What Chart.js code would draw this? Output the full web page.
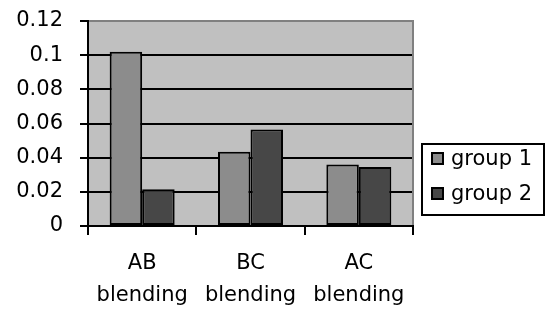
<!DOCTYPE html>
<html>
<head>
<meta charset="utf-8">
<script src="https://cdn.jsdelivr.net/npm/chart.js@4"></script>
<style>
  html, body { margin: 0; padding: 0; background: #ffffff; }
  #wrap { width: 546px; height: 311px; position: relative; }
</style>
</head>
<body>
<div id="wrap"><canvas id="chart" width="546" height="311"></canvas></div>
<script>
// chart data
const categories = [['AB', 'blending'], ['BC', 'blending'], ['AC', 'blending']];
const seriesNames = ['group 1', 'group 2'];
const group1 = [0.102, 0.0435, 0.036];
const group2 = [0.0215, 0.0565, 0.0345];
const yTicks = [0, 0.02, 0.04, 0.06, 0.08, 0.1, 0.12];

const colors = ['#8c8c8c', '#474747'];
const FONT = "'DejaVu Sans', sans-serif";

// grey plot area with the thin grey frame on top and right
const plotBackground = {
    id: 'plotBackground',
    beforeDraw(chart) {
        const { ctx, chartArea: a } = chart;
        ctx.save();
        ctx.fillStyle = '#c0c0c0';
        ctx.fillRect(a.left, a.top, a.right - a.left, a.bottom - a.top);
        ctx.restore();
    },
    afterDatasetsDraw(chart) {
        const { ctx, chartArea: a } = chart;
        ctx.save();
        ctx.strokeStyle = '#808080';
        ctx.lineWidth = 2;
        ctx.beginPath();
        ctx.moveTo(a.left + 1, a.top);
        ctx.lineTo(a.right, a.top);
        ctx.lineTo(a.right, a.bottom - 1);
        ctx.stroke();
        ctx.restore();
    }
};

// boxed legend on the right
const boxLegend = {
    id: 'boxLegend',
    afterDraw(chart) {
        const { ctx } = chart;
        const x = 422, y = 144, w = 122, h = 71;
        ctx.save();
        ctx.fillStyle = '#ffffff';
        ctx.fillRect(x, y, w, h);
        ctx.strokeStyle = '#000000';
        ctx.lineWidth = 2;
        ctx.strokeRect(x, y, w, h);
        chart.data.datasets.forEach((ds, i) => {
            const cy = 159 + i * 35;
            ctx.fillStyle = ds.backgroundColor;
            ctx.fillRect(432, cy - 6, 11, 11);
            ctx.strokeRect(432, cy - 6, 11, 11);
            ctx.fillStyle = '#000000';
            ctx.font = '21px ' + FONT;
            ctx.textBaseline = 'middle';
            ctx.fillText(ds.label, 451, cy + 1);
        });
        ctx.restore();
    }
};

const ctx = document.getElementById('chart').getContext('2d');
new Chart(ctx, {
    type: 'bar',
    data: {
        labels: categories,
        datasets: [
            { label: seriesNames[0], data: group1, backgroundColor: colors[0] },
            { label: seriesNames[1], data: group2, backgroundColor: colors[1] }
        ].map(ds => Object.assign(ds, {
            borderColor: '#000000',
            borderWidth: 2,
            borderSkipped: false,
            categoryPercentage: 0.6,
            barPercentage: 1.0
        }))
    },
    options: {
        responsive: false,
        animation: false,
        layout: { padding: { top: 21, right: 133, left: 0, bottom: 0 } },
        plugins: {
            legend: { display: false },
            tooltip: { enabled: false }
        },
        scales: {
            x: {
                afterFit: (scale) => { scale.height = 85; },
                grid: {
                    offset: true,
                    drawOnChartArea: false,
                    drawTicks: true,
                    tickLength: 9,
                    color: '#000000',
                    lineWidth: 2
                },
                border: { color: '#000000', width: 2 },
                ticks: {
                    color: '#000000',
                    padding: 13,
                    maxRotation: 0,
                    font: { family: FONT, size: 21, lineHeight: 1.5 }
                }
            },
            y: {
                min: 0,
                max: 0.12,
                afterFit: (scale) => { scale.width = 88; scale.paddingTop = 0; scale.paddingBottom = 0; },
                afterBuildTicks: (scale) => { scale.ticks = yTicks.map(v => ({ value: v })); },
                grid: {
                    color: '#000000',
                    lineWidth: 2,
                    drawTicks: true,
                    tickLength: 8
                },
                border: { color: '#000000', width: 2 },
                ticks: {
                    color: '#000000',
                    padding: 17,
                    font: { family: FONT, size: 21 },
                    callback: (v) => String(+v.toFixed(2))
                }
            }
        }
    },
    plugins: [plotBackground, boxLegend]
});
</script>
</body>
</html>
